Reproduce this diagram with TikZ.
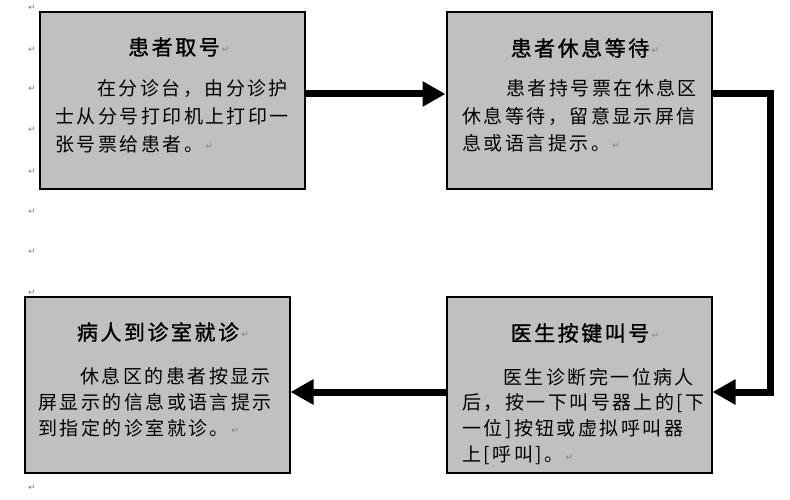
\documentclass[tikz,border=0pt]{standalone}
\usepackage{fontspec}
\usetikzlibrary{arrows.meta}
\newfontfamily\cjk[LetterSpace=13]{Noto Sans CJK SC}
\newfontfamily\cjkt[LetterSpace=12,FakeBold=1.2]{Noto Sans CJK SC}
\newfontfamily\retfont{DejaVu Sans}
\definecolor{boxgray}{HTML}{C0C0C0}
\begin{document}
\begin{tikzpicture}[x=1pt,y=-1pt,
  box/.style={draw=black,line width=2pt,fill=boxgray,minimum width=265pt,minimum height=176pt,inner sep=0pt},
  ttl/.style={font=\cjkt\fontsize{21}{21}\selectfont,inner sep=0pt},
  bodyline/.style={anchor=west,font=\cjk\fontsize{19}{20}\selectfont,inner sep=0pt},
  retmark/.style={font=\retfont\fontsize{9}{9}\selectfont,text=gray,inner sep=0pt},
  endmark/.style={retmark,anchor=west,xshift=2pt,yshift=-3pt},
  arr/.style={line width=7pt,-{Triangle[length=23pt,width=24pt]},line join=miter}]
\useasboundingbox (0,0) rectangle (790,500);
% boxes
\node[box] (b1) at (172.5,100.5) {};
\node[box] (b2) at (579,100.5) {};
\node[box] (b3) at (579,385) {};
\node[box] (b4) at (157,385) {};
% box 1
\node[ttl] (t1) at (174,47) {患者取号};
\node[bodyline] (l11) at (97,88) {在分诊台，由分诊护};
\node[bodyline] (l12) at (55,116) {士从分号打印机上打印一};
\node[bodyline] (l13) at (55,144) {张号票给患者。};
% box 2
\node[ttl] (t2) at (580,48) {患者休息等待};
\node[bodyline] (l21) at (506,88) {患者持号票在休息区};
\node[bodyline] (l22) at (462,116) {休息等待，留意显示屏信};
\node[bodyline] (l23) at (462,143) {息或语言提示。};
% box 3
\node[ttl] (t3) at (580,333) {医生按键叫号};
\node[bodyline] (l31) at (503,377) {医生诊断完一位病人};
\node[bodyline] (l32) at (462,403) {后，按一下叫号器上的[下};
\node[bodyline] (l33) at (462,429) {一位]按钮或虚拟呼叫器};
\node[bodyline] (l34) at (462,455) {上[呼叫]。};
% box 4
\node[ttl] (t4) at (158,332) {病人到诊室就诊};
\node[bodyline] (l41) at (80,376) {休息区的患者按显示};
\node[bodyline] (l42) at (38,402) {屏显示的信息或语言提示};
\node[bodyline] (l43) at (38,428) {到指定的诊室就诊。};
% return marks
\foreach \yy [count=\i] in {8,50,89,130,172,212,252,293,488}
  \node[retmark] (rm\i) at (32,\yy) {↵};
\node[endmark] (rt1) at (t1.east) {↵};
\node[endmark] (rb1) at (l13.east) {↵};
\node[endmark] (rt2) at (t2.east) {↵};
\node[endmark] (rb2) at (l23.east) {↵};
\node[endmark] (rt3) at (t3.east) {↵};
\node[endmark] (rb3) at (l34.east) {↵};
\node[endmark] (rt4) at (t4.east) {↵};
\node[endmark] (rb4) at (l43.east) {↵};
% arrows
\coordinate (ya) at (0,94);
\coordinate (yb) at (0,392);
\coordinate (c1) at (770,94);
\coordinate (c2) at (770,392);
\draw[arr] (b1.east |- ya) -- (b2.west |- ya);
\draw[arr] (b2.east |- ya) -- (c1) -- (c2) -- (b3.east |- yb);
\draw[arr] (b3.west |- yb) -- (b4.east |- yb);
\end{tikzpicture}
\end{document}
